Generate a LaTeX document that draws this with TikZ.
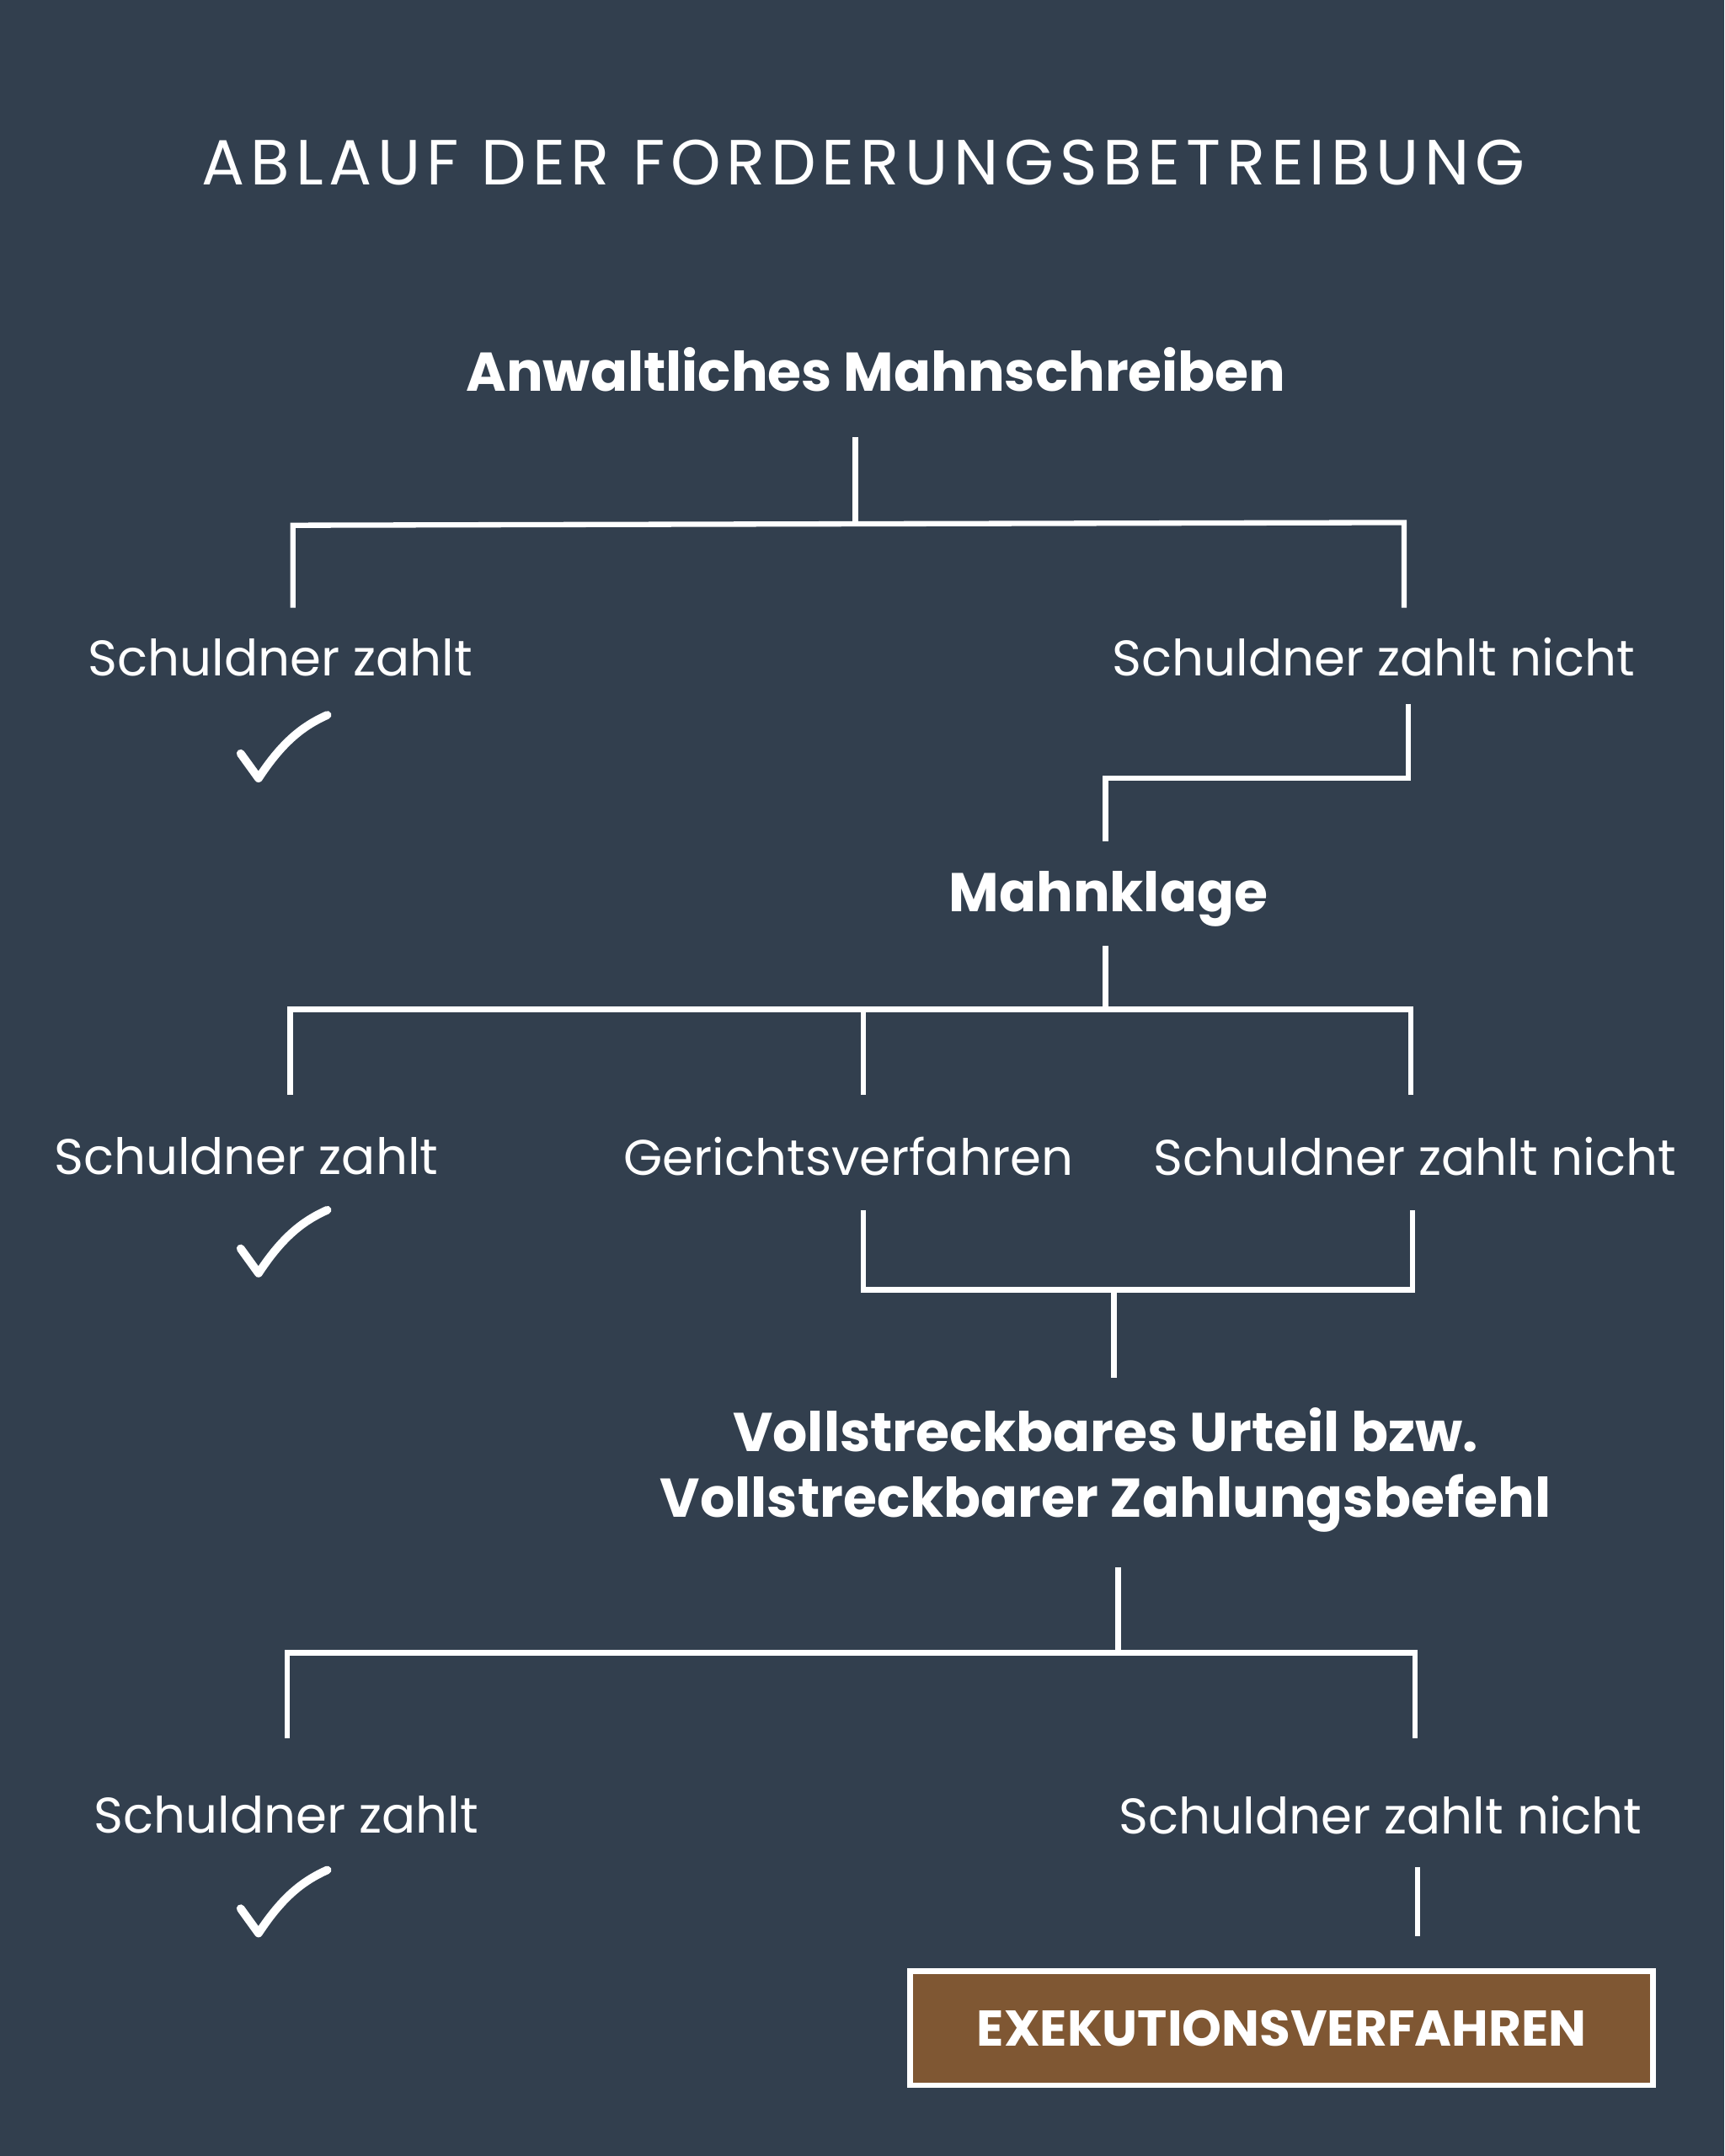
\documentclass[tikz,border=0pt]{standalone}
\usepackage{fontspec}
\setmainfont{Poppins}
\newfontfamily\titlefont[LetterSpace=9]{Poppins}
\definecolor{bg}{HTML}{323F4E}
\definecolor{brown}{HTML}{7F5733}
\begin{document}
\begin{tikzpicture}[x=0.01cm,y=-0.01cm,
  ln/.style={draw=white,line width=1.1pt},
  lbl/.style={text=white,font=\fontsize{10.35}{13}\selectfont,inner sep=0pt},
  blbl/.style={text=white,font=\fontsize{11.3}{13.7}\bfseries\selectfont,inner sep=0pt,align=center},
  chk/.style={draw=white,line width=1.7pt,line cap=round,line join=round}]
\fill[bg] (0,0) rectangle (1254,1568);
\useasboundingbox (0,0) rectangle (1254,1568);
\node[text=white,font=\fontsize{13.2}{16}\titlefont\selectfont] (title) at (628,118) {ABLAUF DER FORDERUNGSBETREIBUNG};
\node[blbl] (a) at (637,269) {Anwaltliches Mahnschreiben};
\node[lbl] (s1) at (204,478) {Schuldner zahlt};
\node[lbl] (n1) at (999,478) {Schuldner zahlt nicht};
\node[blbl] (m) at (806,654) {Mahnklage};
\node[lbl] (s2) at (179,841) {Schuldner zahlt};
\node[lbl] (g) at (617,841) {Gerichtsverfahren};
\node[lbl] (n2) at (1029,841) {Schuldner zahlt nicht};
\node[blbl] (v) at (804,1069) {Vollstreckbares Urteil bzw.\\Vollstreckbarer Zahlungsbefehl};
\node[lbl] (s3) at (208,1320) {Schuldner zahlt};
\node[lbl] (n3) at (1004,1320) {Schuldner zahlt nicht};
\node[draw=white,line width=1.2pt,fill=brown,minimum width=5.4cm,minimum height=0.83cm,text=white,font=\fontsize{10.4}{13}\bfseries\selectfont] (e) at (932,1475) {EXEKUTIONSVERFAHREN};
% connectors
\coordinate (a1) at (622,318); \coordinate (a2) at (622,381);
\coordinate (l1) at (213,382); \coordinate (r1) at (1021,380);
\draw[ln] (a1) -- (a2);
\draw[ln] (213,442) -- (l1) -- (r1) -- (1021,442);
\draw[ln] (1024,512) -- (1024,566) -- (804,566) -- (804,612);
\draw[ln] (804,688) -- (804,734);
\draw[ln] (211,796) -- (211,734) -- (1026,734) -- (1026,796);
\draw[ln] (628,734) -- (628,796);
\draw[ln] (628,880) -- (628,938) -- (1027,938) -- (1027,880);
\draw[ln] (810,938) -- (810,1002);
\draw[ln] (813,1140) -- (813,1201);
\draw[ln] (209,1264) -- (209,1202) -- (1029,1202) -- (1029,1264);
\draw[ln] (1031,1358) -- (1031,1408);
% checks
\foreach \y in {0,360,840}{
  \draw[chk] (175,{548+\y}) -- (188,{566+\y}) .. controls (205,{540+\y}) and (220,{528+\y}) .. (238,{520+\y});
}
\end{tikzpicture}
\end{document}
